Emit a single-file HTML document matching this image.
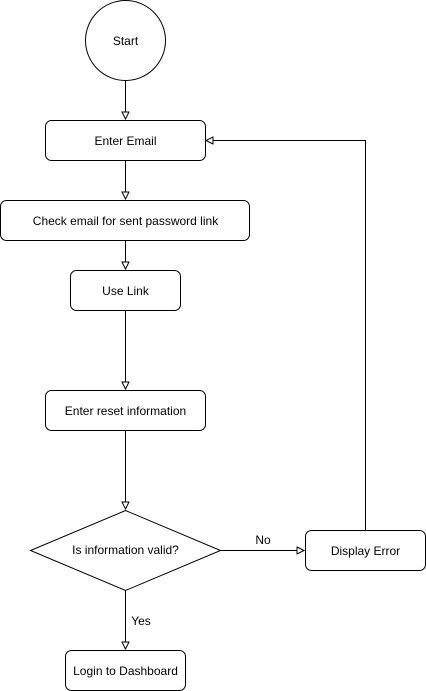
<!DOCTYPE html>
<html><head><meta charset="utf-8"><style>
html,body{margin:0;padding:0;background:#fff;}
svg{display:block;}
text{font-family:"Liberation Sans",Arial,sans-serif;font-size:12px;fill:#000;}
</style></head><body>
<svg width="426" height="691" viewBox="0 0 426 691" xmlns="http://www.w3.org/2000/svg">
<defs>
<marker id="a" markerWidth="10" markerHeight="10" refX="8" refY="4" orient="auto" markerUnits="userSpaceOnUse">
<path d="M1,0.5 L8,4 L1,7.5 Z" fill="#fff" stroke="#000" stroke-width="1"/>
</marker>
</defs>
<g fill="none" stroke="#000" stroke-width="1">
<line x1="125.5" y1="80" x2="125.5" y2="119" marker-end="url(#a)"/>
<line x1="125.5" y1="160" x2="125.5" y2="199" marker-end="url(#a)"/>
<line x1="125.5" y1="240" x2="125.5" y2="269" marker-end="url(#a)"/>
<line x1="125.5" y1="310" x2="125.5" y2="389" marker-end="url(#a)"/>
<line x1="125.5" y1="430" x2="125.5" y2="509" marker-end="url(#a)"/>
<line x1="125.5" y1="590" x2="125.5" y2="649" marker-end="url(#a)"/>
<line x1="220" y1="550.5" x2="304" y2="550.5" marker-end="url(#a)"/>
<polyline points="365.5,530 365.5,140.5 206,140.5" marker-end="url(#a)"/>
</g>
<g fill="#fff" stroke="#000" stroke-width="1">
<circle cx="125.5" cy="40.5" r="40"/>
<rect x="45.5" y="120.5" width="160" height="40" rx="6"/>
<rect x="0.5" y="200.5" width="249" height="40" rx="6"/>
<rect x="70.5" y="270.5" width="110" height="40" rx="6"/>
<rect x="45.5" y="390.5" width="160" height="40" rx="6"/>
<polygon points="125.5,510.5 220.5,550.5 125.5,590.5 30.5,550.5"/>
<rect x="305.5" y="530.5" width="120" height="40" rx="6"/>
<rect x="65.5" y="650.5" width="120" height="40" rx="6"/>
</g>
<g text-anchor="middle">
<text x="125.5" y="45">Start</text>
<text x="125.5" y="145">Enter Email</text>
<text x="125.5" y="225">Check email for sent password link</text>
<text x="125.5" y="295">Use Link</text>
<text x="125.5" y="415">Enter reset information</text>
<text x="125.5" y="554">Is information valid?</text>
<text x="365.5" y="555">Display Error</text>
<text x="125.5" y="675">Login to Dashboard</text>
<text x="263" y="544">No</text>
<text x="141" y="625">Yes</text>
</g>
</svg>
</body></html>
